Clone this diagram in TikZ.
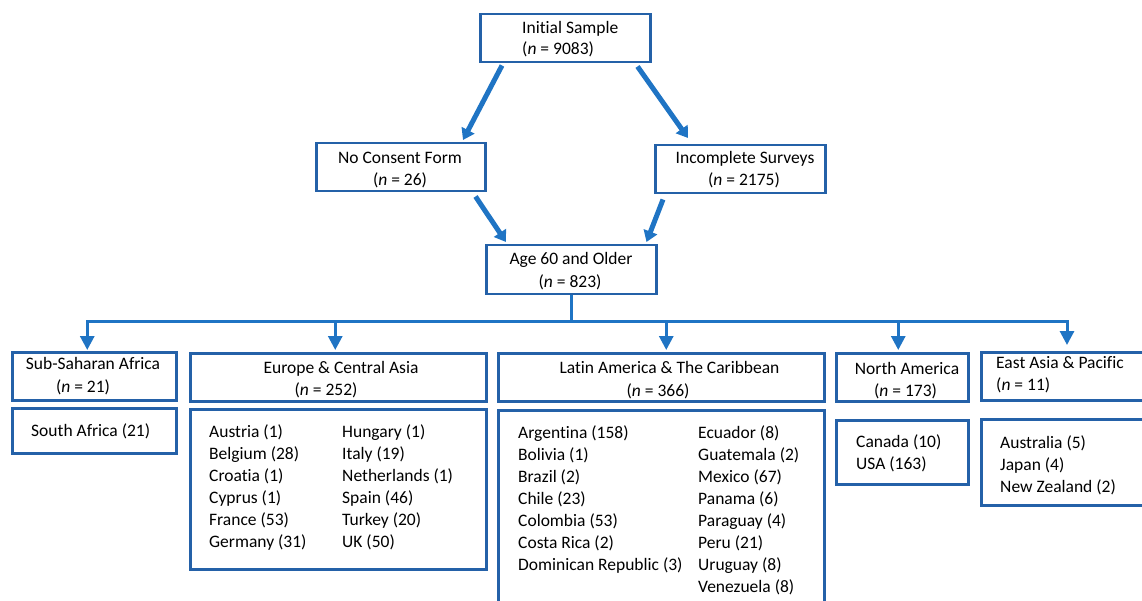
\documentclass[tikz,border=0pt]{standalone}
\usepackage{fontspec}
\setmainfont{Carlito}[Ligatures=NoCommon]
\usetikzlibrary{arrows.meta}
\definecolor{boxblue}{HTML}{2461A8}
\definecolor{linkblue}{HTML}{1F74C4}
\begin{document}
\begin{tikzpicture}[x=1pt,y=-1pt,
  box/.style={draw=boxblue, line width=2.5pt, fill=white, rectangle, inner sep=0pt, anchor=north west},
  txt/.style={inner sep=0pt, font=\fontsize{17.5}{22}\selectfont},
  fat/.style={draw=linkblue, line width=5pt, -{Triangle[width=14pt,length=11pt]}},
  bus/.style={draw=linkblue, line width=3pt},
  drop/.style={bus, -{Triangle[width=14pt,length=14pt]}},
  ]
\clip (0,0) rectangle (1142,601);
% boxes
\node[box, minimum width=170pt, minimum height=48pt] (init) at (479,13) {};
\node[box, minimum width=169pt, minimum height=48pt] (nocons) at (315,142) {};
\node[box, minimum width=170pt, minimum height=48pt] (incomp) at (654,144) {};
\node[box, minimum width=170pt, minimum height=49pt] (age) at (485,244) {};
\node[box, minimum width=164pt, minimum height=48pt] (ssa) at (11,351) {};
\node[box, minimum width=164pt, minimum height=45pt] (ssal) at (11,407) {};
\node[box, minimum width=296pt, minimum height=48pt] (eca) at (189,352) {};
\node[box, minimum width=296pt, minimum height=160pt] (ecal) at (189,408) {};
\node[box, minimum width=326pt, minimum height=48pt] (lac) at (497,352) {};
\node[box, minimum width=326pt, minimum height=220pt] (lacl) at (497,409) {};
\node[box, minimum width=132pt, minimum height=48pt] (na) at (835,352) {};
\node[box, minimum width=132pt, minimum height=64pt] (nal) at (835,419) {};
\node[box, minimum width=180pt, minimum height=48pt] (eap) at (980,351) {};
\node[box, minimum width=180pt, minimum height=86pt] (eapl) at (980,418) {};
% texts
\node[txt, anchor=base west] (initA) at (522,34) {Initial Sample};
\node[txt, anchor=base west] (initB) at (522,55) {(\textit{n} = 9083)};
\node[txt, anchor=base] (noconsA) at (400,164) {No Consent Form};
\node[txt, anchor=base] (noconsB) at (400,186) {(\textit{n} = 26)};
\node[txt, anchor=base] (incompA) at (745,164) {Incomplete Surveys};
\node[txt, anchor=base] (incompB) at (744,186) {(\textit{n} = 2175)};
\node[txt, anchor=base] (ageA) at (571,265) {Age 60 and Older};
\node[txt, anchor=base] (ageB) at (570,288) {(\textit{n} = 823)};
\node[txt, anchor=base] (ssaA) at (93,369) {Sub-Saharan Africa};
\node[txt, anchor=base] (ssaB) at (83,392) {(\textit{n} = 21)};
\node[txt, anchor=base west] (ssalA) at (31,436) {South Africa (21)};
\node[txt, anchor=base] (ecaA) at (341,373) {Europe \& Central Asia};
\node[txt, anchor=base] (ecaB) at (326,395) {(\textit{n} = 252)};
\node[txt, anchor=base west] (ecalA) at (209,437) {\begin{tabular}[t]{@{}l@{}}Austria (1)\\Belgium (28)\\Croatia (1)\\Cyprus (1)\\France (53)\\Germany (31)\end{tabular}};
\node[txt, anchor=base west] (ecalB) at (342,437) {\begin{tabular}[t]{@{}l@{}}Hungary (1)\\Italy (19)\\Netherlands (1)\\Spain (46)\\Turkey (20)\\UK (50)\end{tabular}};
\node[txt, anchor=base] (lacA) at (669.5,373) {Latin America \& The Caribbean};
\node[txt, anchor=base] (lacB) at (658,396) {(\textit{n} = 366)};
\node[txt, anchor=base west] (laclA) at (518,438) {\begin{tabular}[t]{@{}l@{}}Argentina (158)\\Bolivia (1)\\Brazil (2)\\Chile (23)\\Colombia (53)\\Costa Rica (2)\\Dominican Republic (3)\end{tabular}};
\node[txt, anchor=base west] (laclB) at (698,438) {\begin{tabular}[t]{@{}l@{}}Ecuador (8)\\Guatemala (2)\\Mexico (67)\\Panama (6)\\Paraguay (4)\\Peru (21)\\Uruguay (8)\\Venezuela (8)\end{tabular}};
\node[txt, anchor=base] (naA) at (907,374) {North America};
\node[txt, anchor=base] (naB) at (905.5,396) {(\textit{n} = 173)};
\node[txt, anchor=base west] (nalA) at (856,447) {\begin{tabular}[t]{@{}l@{}}Canada (10)\\USA (163)\end{tabular}};
\node[txt, anchor=base west] (eapA) at (996,368) {East Asia \& Pacific};
\node[txt, anchor=base west] (eapB) at (996,390) {(\textit{n} = 11)};
\node[txt, anchor=base west] (eaplA) at (1000,448) {\begin{tabular}[t]{@{}l@{}}Australia (5)\\Japan (4)\\New Zealand (2)\end{tabular}};
% diagonal arrows
\draw[fat] ([xshift=23pt,yshift=-2pt]init.south west) -- ([xshift=148pt,yshift=2pt]nocons.north west);
\draw[fat] ([xshift=-14pt,yshift=-3pt]init.south east) -- ([xshift=34pt,yshift=6pt]incomp.north west);
\draw[fat] ([xshift=-11pt,yshift=-4pt]nocons.south east) -- ([xshift=21pt,yshift=2pt]age.north west);
\draw[fat] ([xshift=9pt,yshift=-5pt]incomp.south west) -- ([xshift=-11pt,yshift=2pt]age.north east);
% tree
\coordinate (bus) at (0,321);
\draw[bus] (age.south) -- (age.south |- bus);
\draw[bus, {Triangle[width=14pt,length=14pt]}-{Triangle[width=14pt,length=14pt]}]
  ([xshift=-7pt,yshift=1pt]ssa.north) |- (age.south |- bus) -| ([xshift=87pt,yshift=6pt]eap.north west);
\draw[drop] ([xshift=-3pt]eca.north |- bus) -- ([xshift=-3pt,yshift=2pt]eca.north);
\draw[drop] ([xshift=5pt]lac.north |- bus) -- ([xshift=5pt,yshift=2pt]lac.north);
\draw[drop] ([xshift=-4pt]na.north |- bus) -- ([xshift=-4pt,yshift=2pt]na.north);
\end{tikzpicture}
\end{document}
